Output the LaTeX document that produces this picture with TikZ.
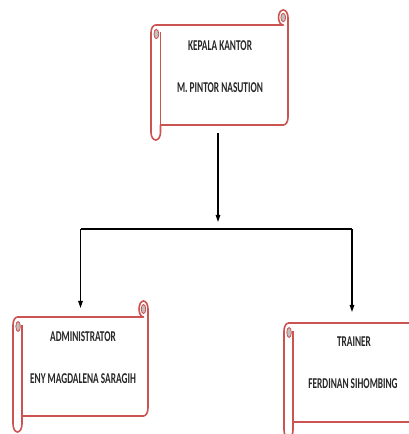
\documentclass[tikz,border=0pt]{standalone}
\usepackage{fontspec}
\setmainfont{Carlito}
\usetikzlibrary{arrows.meta}
\definecolor{scrollred}{RGB}{203,84,82}
\definecolor{curlgray}{RGB}{196,190,190}
\newcommand\scrollshape[6]{%
 \pgfmathsetmacro\sL{#1}\pgfmathsetmacro\sB{#2}\pgfmathsetmacro\sR{#3}\pgfmathsetmacro\sT{#4}%
 \pgfmathsetmacro\sX{#5}\pgfmathsetmacro\sY{#6}%
 \pgfmathsetmacro\sTb{\sT-\sY}\pgfmathsetmacro\sBb{\sB+\sY}%
 \pgfmathsetmacro\hx{\sX/2}\pgfmathsetmacro\hy{\sY/2}%
 \draw[scrollline,fill=white] (\sL,\sTb-\hy)
   arc[start angle=180,end angle=90,x radius=\hx,y radius=\hy]
   -- (\sR-\hx,\sTb)
   arc[start angle=270,end angle=0,x radius=\hx,y radius=\hy]
   -- (\sR,\sBb+\hy)
   arc[start angle=0,end angle=-90,x radius=\hx,y radius=\hy]
   -- (\sL+\sX,\sBb) -- (\sL+\sX,\sB+\hy)
   arc[start angle=0,end angle=-180,x radius=\hx,y radius=\hy]
   -- cycle;
 \draw[scrollline] (\sL+\sX,\sTb-\hy) -- (\sL+\sX,\sBb);
 \draw[scrollline,line width=0.8pt,fill=curlgray] (\sL+\hx+0.6,\sTb-\hy-1.5) ellipse[x radius=\sX/4,y radius=\sY/3.2];
 \draw[scrollline,line width=0.8pt,fill=curlgray] (\sR-\hx,\sTb+\hy) ellipse[x radius=\sX/4,y radius=\sY/3.5];
}
\begin{document}
\begin{tikzpicture}[x=1pt,y=1pt,
  scrollline/.style={draw=scrollred,line width=1.6pt,line join=round},
  bodynode/.style={inner sep=0pt,outer sep=0pt},
  label/.style={inner sep=0pt,font=\fontsize{15}{18}\selectfont\bfseries,text=black!85},
  conn/.style={line width=1.2pt,-{Triangle[length=7pt,width=4.5pt]}},
  bar/.style={line width=2pt}]
\useasboundingbox (0,0) rectangle (409,434);
\clip (0,0) rectangle (409,434);
% scroll shapes
\scrollshape{151}{294}{288}{424}{9.5}{15}
\scrollshape{13}{2}{148}{133}{9}{16}
\scrollshape{284}{-4}{422}{127}{9}{16}
% body nodes
\node[bodynode,minimum width=137pt,minimum height=100pt] (kk) at (219.5,359) {};
\node[bodynode,minimum width=135pt,minimum height=99pt] (adm) at (80.5,67.5) {};
\node[bodynode,minimum width=138pt,minimum height=99pt] (trn) at (353,61.5) {};
% texts
\node[label] (kk1) at (220,388) {\scalebox{0.62}[1]{KEPALA KANTOR}};
\node[label] (kk2) at (220,346.5) {\scalebox{0.62}[1]{M. PINTOR NASUTION}};
\node[label] (adm1) at (83,97) {\scalebox{0.62}[1]{ADMINISTRATOR}};
\node[label] (adm2) at (83,55.5) {\scalebox{0.62}[1]{ENY MAGDALENA SARAGIH}};
\node[label] (trn1) at (354,92) {\scalebox{0.62}[1]{TRAINER}};
\node[label] (trn2) at (353,50.5) {\scalebox{0.62}[1]{FERDINAN SIHOMBING}};
% connectors
\coordinate (j1) at (218,212);
\coordinate (bl) at (80.5,204.5);
\coordinate (br) at (352,204.5);
\draw[conn] ([xshift=-1.5pt,yshift=-8pt]kk.south) -- (j1);
\draw[bar] (bl) -- (br);
\draw[conn] (bl) -- ([yshift=9pt]adm.north);
\draw[conn] (br) -- ([yshift=11pt]trn.north -| br);
\end{tikzpicture}
\end{document}
